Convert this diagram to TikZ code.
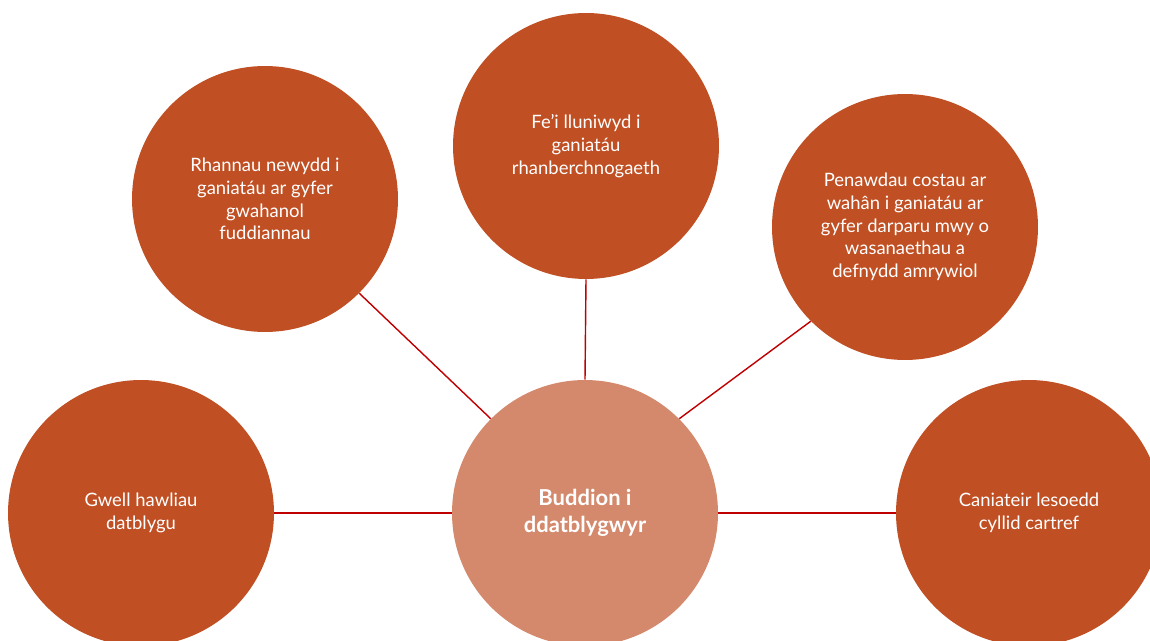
\documentclass[tikz,border=0pt]{standalone}
\usepackage{fontspec}
\setmainfont{Lato}
\usepackage{xcolor}

\definecolor{arancio}{RGB}{192,79,35}
\definecolor{salmone}{RGB}{212,137,108}
\definecolor{linea}{RGB}{192,0,0}

\begin{document}
\begin{tikzpicture}[x=0.02cm, y=-0.02cm,
    bolla/.style={circle, fill=arancio, minimum size=5.32cm, inner sep=0pt,
        text=white, align=center, font=\fontsize{10.5}{12.9}\selectfont},
    centro/.style={bolla, fill=salmone, font=\bfseries\fontsize{12.5}{15.4}\selectfont},
    collega/.style={draw=linea, line width=0.8pt}]
        % Sfondo e ritaglio alla pagina
        \fill[white] (0,0) rectangle (1150,641);
        \clip (0,0) rectangle (1150,641);
        
        % Cerchio centrale
        \node[centro] (buddion) at (585,513) {Buddion i\\ddatblygwyr};
        
        % Cerchi esterni
        \node[bolla] (gwell) at (141,513) {Gwell hawliau\\datblygu};
        \node[bolla] (rhannau) at (265,199) {Rhannau newydd i\\ganiatáu ar gyfer\\gwahanol\\fuddiannau};
        \node[bolla] (lluniwyd) at (586,146) {Fe’i lluniwyd i\\ganiatáu\\rhanberchnogaeth};
        \node[bolla] (penawdau) at (905,227) {Penawdau costau ar\\wahân i ganiatáu ar\\gyfer darparu mwy o\\wasanaethau a\\defnydd amrywiol};
        \node[bolla] (caniateir) at (1029,513) {Caniateir lesoedd\\cyllid cartref};
        
        % Linee di collegamento
        \foreach \a/\n/\b in {west/gwell/east, north west/rhannau/south east,
                north/lluniwyd/south, north east/penawdau/south west,
                east/caniateir/west} {
            \draw[collega] (buddion.\a) -- (\n.\b);
        }
    \end{tikzpicture}
\end{document}
